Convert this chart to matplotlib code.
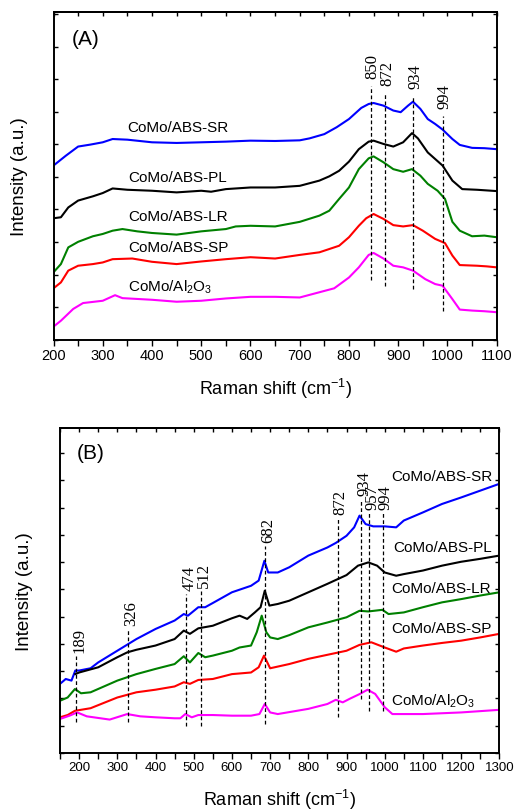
import matplotlib
matplotlib.use("Agg")
import matplotlib.pyplot as plt
from matplotlib.ticker import MultipleLocator
from matplotlib.font_manager import FontProperties

plt.rcParams["font.family"] = ["Liberation Sans", "DejaVu Sans"]
plt.rcParams["mathtext.fontset"] = "custom"
plt.rcParams["mathtext.rm"] = "Liberation Sans"
plt.rcParams["mathtext.it"] = "Liberation Sans:italic"
plt.rcParams["mathtext.default"] = "regular"

# ---- panel (A) ----
a_x_sr = [200, 225, 250, 275, 300, 320, 350, 400, 450, 500, 550, 600, 650, 700, 720, 750, 775, 800,
          825, 840, 850, 870, 890, 905, 920, 930, 945, 960, 975, 990, 1010, 1025, 1050, 1075, 1100]
a_y_sr = [53.2, 56.2, 59.0, 59.6, 60.3, 61.3, 61.1, 60.3, 60.1, 60.3, 60.5, 60.8, 60.7, 60.9, 61.5,
          62.8, 64.9, 67.4, 70.8, 72.0, 72.3, 71.5, 70.0, 69.5, 71.5, 72.7, 70.5, 67.4, 65.9, 64.2,
          61.3, 59.5, 58.6, 58.5, 58.2]

a_x_pl = [200, 215, 230, 250, 280, 300, 320, 350, 400, 450, 500, 520, 550, 600, 650, 700, 740, 760,
          780, 800, 820, 840, 850, 870, 890, 910, 928, 940, 960, 990, 1010, 1030, 1060, 1100]
a_y_pl = [37.1, 37.4, 40.4, 42.5, 43.8, 44.8, 46.2, 45.8, 45.5, 45.0, 45.5, 45.2, 46.0, 46.5, 46.5,
          47.0, 48.6, 49.9, 51.6, 54.4, 58.2, 60.5, 60.8, 59.8, 59.0, 60.3, 63.1, 61.5, 57.2, 53.2,
          48.6, 46.0, 45.8, 45.4]

a_x_lr = [200, 215, 230, 250, 280, 300, 320, 340, 370, 400, 450, 500, 550, 570, 600, 650, 700, 740,
          760, 780, 800, 820, 840, 850, 870, 890, 910, 928, 945, 960, 980, 995, 1010, 1025, 1050,
          1075, 1100]
a_y_lr = [20.6, 23.1, 28.2, 29.9, 31.6, 32.3, 33.3, 33.8, 33.1, 32.6, 32.1, 33.1, 33.8, 34.6, 34.8,
          34.6, 36.0, 37.9, 39.4, 43.0, 46.5, 52.1, 55.4, 56.0, 54.2, 52.1, 51.3, 52.1, 50.1, 47.6,
          45.5, 43.0, 36.0, 33.3, 31.6, 31.8, 31.3]

a_x_sp = [200, 215, 230, 250, 280, 300, 320, 360, 400, 450, 500, 550, 600, 650, 700, 740, 780, 800,
          820, 835, 850, 870, 890, 910, 930, 950, 975, 995, 1010, 1025, 1060, 1080, 1100]
a_y_sp = [15.7, 17.5, 21.1, 22.6, 23.1, 23.6, 24.6, 24.8, 23.8, 23.1, 23.9, 24.6, 25.2, 24.8, 25.9,
          26.7, 28.7, 31.3, 34.8, 37.1, 38.4, 36.9, 35.0, 34.6, 35.0, 33.3, 30.8, 29.5, 25.7, 22.8,
          22.6, 22.4, 22.1]

a_x_al = [200, 215, 240, 260, 300, 325, 340, 400, 450, 500, 550, 600, 650, 700, 740, 770, 800, 820,
          840, 850, 870, 890, 910, 930, 955, 975, 990, 1010, 1025, 1050, 1075, 1100]
a_y_al = [4.0, 5.8, 9.4, 11.2, 11.9, 13.6, 12.7, 12.2, 11.6, 11.9, 12.6, 13.1, 13.1, 12.9, 14.5,
          15.7, 19.0, 22.1, 25.9, 26.5, 24.8, 22.6, 22.1, 21.1, 18.5, 17.0, 16.5, 12.4, 9.2, 8.9,
          8.7, 8.4]

a_peak_labels = ["850", "872", "934", "994"]
a_peak_pos = [844, 873, 931, 990]
a_peak_top = [77.4, 75.3, 74.5, 68.4]
a_peak_bottom = [18.3, 16.5, 15.5, 8.9]

a_names = ["CoMo/ABS-SR", "CoMo/ABS-PL", "CoMo/ABS-LR", "CoMo/ABS-SP", "CoMo/Al$_2$O$_3$"]
a_name_x = [349, 352, 351, 351, 352]
a_name_y = [64.9, 49.6, 37.9, 28.2, 16.3]

# ---- panel (B) ----
b_x_sr = [150, 165, 180, 190, 200, 230, 250, 300, 350, 400, 450, 474, 485, 512, 530, 550, 600, 650,
          670, 685, 695, 720, 750, 800, 850, 872, 900, 920, 934, 950, 970, 1000, 1030, 1050, 1100,
          1150, 1200, 1250, 1300]
b_y_sr = [21.3, 22.8, 22.3, 25.4, 25.4, 26.1, 27.9, 31.5, 35.1, 38.2, 40.8, 42.8, 42.3, 44.9, 44.9,
          46.2, 49.5, 51.5, 53.1, 59.2, 55.6, 55.6, 57.2, 60.8, 63.3, 64.7, 66.9, 69.5, 73.1, 70.5,
          69.8, 69.8, 69.5, 71.6, 74.1, 76.7, 78.7, 80.8, 82.9]

b_x_pl = [190, 200, 250, 300, 326, 350, 400, 450, 474, 490, 512, 550, 600, 620, 640, 660, 675, 686,
          698, 720, 750, 800, 850, 900, 930, 957, 980, 1000, 1030, 1050, 1100, 1150, 1200, 1250, 1300]
b_y_pl = [24.3, 24.8, 26.4, 29.5, 31.0, 31.8, 33.1, 35.1, 37.7, 36.7, 38.4, 39.2, 41.5, 42.3, 41.3,
          43.3, 44.9, 50.0, 45.4, 45.9, 46.9, 49.5, 52.1, 54.8, 57.7, 58.7, 57.7, 55.6, 54.6, 55.1,
          56.2, 57.7, 58.9, 59.8, 60.8]

b_x_lr = [150, 170, 189, 205, 230, 300, 350, 400, 450, 474, 490, 512, 530, 550, 600, 620, 650, 665,
          678, 690, 700, 720, 750, 800, 850, 900, 934, 957, 994, 1010, 1050, 1100, 1150, 1200, 1250,
          1300]
b_y_lr = [16.1, 17.1, 19.7, 18.4, 18.7, 22.3, 24.3, 25.9, 27.4, 29.8, 27.9, 30.8, 29.5, 30.0, 31.5,
          32.5, 33.1, 37.2, 42.3, 37.2, 35.6, 35.1, 36.3, 38.7, 40.2, 41.8, 43.8, 43.6, 44.1, 42.8,
          43.3, 44.9, 46.4, 47.4, 48.5, 49.5]

b_x_sp = [150, 170, 189, 230, 300, 350, 400, 450, 474, 490, 512, 550, 600, 650, 670, 684, 700, 750,
          800, 872, 900, 934, 965, 1000, 1030, 1050, 1100, 1150, 1200, 1250, 1300]
b_y_sp = [11.0, 11.7, 13.0, 13.8, 17.1, 18.7, 19.5, 20.5, 21.8, 21.3, 22.5, 22.8, 24.3, 24.8, 26.4,
          30.0, 26.1, 27.4, 29.0, 30.8, 31.5, 33.3, 34.1, 32.5, 31.2, 32.2, 33.1, 33.9, 34.6, 35.6,
          36.7]

b_x_al = [150, 175, 195, 220, 280, 326, 360, 400, 450, 465, 478, 495, 512, 550, 600, 650, 672, 686,
          700, 720, 800, 850, 872, 890, 910, 935, 955, 975, 1000, 1020, 1100, 1200, 1300]
b_y_al = [10.5, 11.5, 12.5, 11.3, 10.3, 12.0, 11.3, 11.0, 10.7, 10.7, 12.0, 11.0, 11.7, 11.7, 11.5,
          11.5, 12.0, 15.1, 12.5, 12.0, 13.6, 15.1, 16.4, 15.6, 16.8, 18.2, 19.5, 18.2, 14.1, 12.0,
          12.0, 12.5, 13.3]

b_peak_labels = ["189", "326", "474", "512", "682", "872", "934", "957", "994"]
b_peak_pos = [192, 329, 480, 519, 687, 877, 939, 960, 995]
b_peak_top = [30.0, 38.2, 49.0, 50.0, 63.9, 72.3, 78.2, 74.1, 74.1]
b_peak_bottom = [9.4, 9.7, 8.4, 8.4, 8.9, 11.0, 16.6, 13.0, 13.0]

b_names = ["CoMo/ABS-SR", "CoMo/ABS-PL", "CoMo/ABS-LR", "CoMo/ABS-SP", "CoMo/Al$_2$O$_3$"]
b_name_x = [1018, 1022, 1018, 1018, 1016]
b_name_y = [85.4, 63.3, 50.7, 38.4, 16.1]

colors = ["#0000ff", "#000000", "#008000", "#ff0000", "#ff00ff"]
serif = FontProperties(family="Liberation Serif", size=12)


def style_axes(ax, xmin, xmax, ystep, tick_size):
    ax.set_xlim(xmin, xmax)
    ax.set_ylim(0, 100)
    ax.xaxis.set_major_locator(MultipleLocator(100))
    ax.xaxis.set_minor_locator(MultipleLocator(50))
    ax.yaxis.set_major_locator(MultipleLocator(ystep))
    ax.tick_params(axis="x", which="both", direction="out", length=4, width=1,
                   labelsize=tick_size, pad=2)
    ax.tick_params(axis="y", which="both", direction="in", length=3, width=1,
                   left=True, right=True, labelleft=False)
    top = ax.secondary_xaxis("top")
    top.xaxis.set_major_locator(MultipleLocator(50))
    top.tick_params(direction="in", length=3, width=1, labeltop=False)
    for s in list(ax.spines.values()) + list(top.spines.values()):
        s.set_linewidth(1.4)
    ax.set_xlabel("Raman shift (cm$^{-1}$)", fontsize=13, labelpad=10)
    ax.set_ylabel("Intensity (a.u.)", fontsize=13.5)


fig = plt.figure(figsize=(5.16, 8.12), dpi=100)

# panel A
ax1 = fig.add_axes([0.1037, 0.5804, 0.8589, 0.4032])
a_series = [(a_x_sr, a_y_sr), (a_x_pl, a_y_pl), (a_x_lr, a_y_lr), (a_x_sp, a_y_sp), (a_x_al, a_y_al)]
for (x, y), c in zip(a_series, colors):
    ax1.plot(x, y, color=c, lw=1.5)
for lab, p, t, b in zip(a_peak_labels, a_peak_pos, a_peak_top, a_peak_bottom):
    ax1.plot([p, p], [b, t], color="k", lw=0.9, ls=(0, (3, 2)))
    ax1.text(p + 4, t + 2.5, lab, rotation=90, ha="center", va="bottom",
             fontproperties=serif)
for name, x, y in zip(a_names, a_name_x, a_name_y):
    ax1.text(x, y, name, fontsize=11, ha="left", va="center")
ax1.text(237, 92, "(A)", fontsize=15, ha="left", va="center")
style_axes(ax1, 200, 1100, 9.95, 10.5)
ax1.yaxis.set_label_coords(-0.058, 0.5)

# panel B
ax2 = fig.add_axes([0.1163, 0.0714, 0.8514, 0.3999])
b_series = [(b_x_sr, b_y_sr), (b_x_pl, b_y_pl), (b_x_lr, b_y_lr), (b_x_sp, b_y_sp), (b_x_al, b_y_al)]
for (x, y), c in zip(b_series, colors):
    ax2.plot(x, y, color=c, lw=1.5)
for lab, p, t, b in zip(b_peak_labels, b_peak_pos, b_peak_top, b_peak_bottom):
    ax2.plot([p, p], [b, t], color="k", lw=0.9, ls=(0, (3, 2)))
    ax2.text(p + 8, t + 1.2, lab, rotation=90, ha="center", va="bottom",
             fontproperties=serif)
for name, x, y in zip(b_names, b_name_x, b_name_y):
    ax2.text(x, y, name, fontsize=11, ha="left", va="center")
ax2.text(194, 92.6, "(B)", fontsize=15, ha="left", va="center")
style_axes(ax2, 150, 1300, 8.4, 9.5)
ax2.yaxis.set_label_coords(-0.062, 0.5)

fig.savefig("out.png", dpi=100)
